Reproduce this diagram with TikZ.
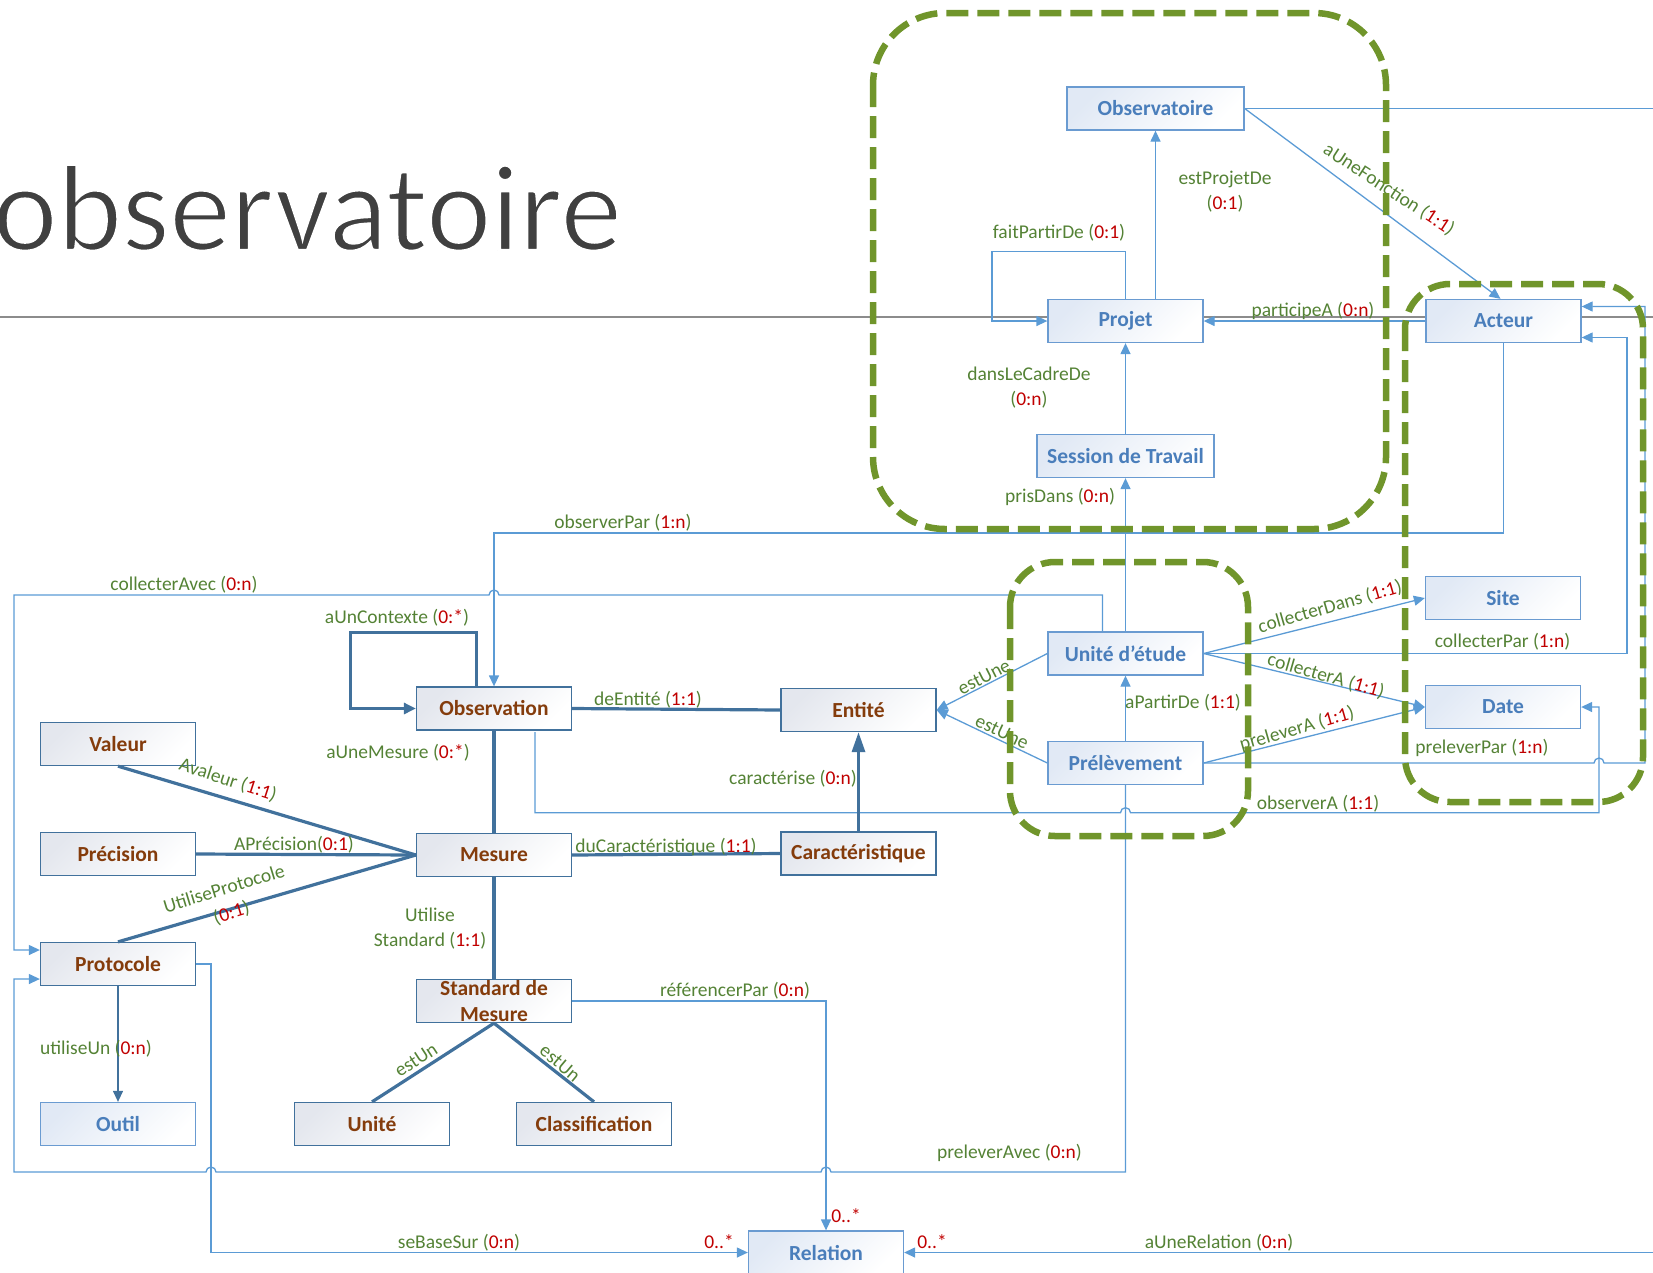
\documentclass[tikz,border=0pt]{standalone}
\usepackage{fontspec}
\setmainfont{Carlito}
\usetikzlibrary{arrows.meta,calc,shadings}

\definecolor{bbord}{HTML}{6A9BD1}
\definecolor{bfill}{HTML}{E1E9F5}
\definecolor{btext}{HTML}{4A7EBB}
\definecolor{dbord}{HTML}{41719C}
\definecolor{rfill}{HTML}{E4E7EE}
\definecolor{rtext}{HTML}{843C0C}
\definecolor{lblue}{HTML}{5B9BD5}
\definecolor{dblue}{HTML}{41719C}
\definecolor{lgreen}{HTML}{548235}
\definecolor{lred}{HTML}{C00000}
\definecolor{dgreen}{HTML}{70952B}
\definecolor{titlegray}{HTML}{404040}
\definecolor{rulegray}{HTML}{8C8C8C}

\newcommand{\rd}[1]{\textcolor{lred}{#1}}
\newcommand{\boxfont}{\fontsize{21.5}{26}\selectfont\bfseries}
\newcommand{\lblfont}{\fontsize{19.5}{25}\selectfont}
% thinner title strokes: fill, then stroke the outlines in white
\newcommand{\lighttext}[1]{\special{pdf:literal direct 2 Tr 1 1 1 RG 2.4 w}#1\special{pdf:literal direct 0 Tr 0 0 0 RG 0.4 w}}

\tikzset{
  bluebox/.style={draw=bbord, line width=1.3pt, top color=bfill, bottom color=white,
    shading angle=45, minimum width=155pt, minimum height=43pt, inner sep=0pt,
    font=\boxfont, text=btext},
  brownbox/.style={draw=dbord, line width=1.3pt, top color=rfill, bottom color=white,
    shading angle=45, minimum width=155pt, minimum height=43pt, inner sep=0pt,
    font=\boxfont, text=rtext},
  boxtext/.style={font=\boxfont, text=rtext, align=center, inner sep=0pt},
  link/.style={draw=lblue, line width=1.3pt},
  dlink/.style={draw=dblue, line width=1.3pt},
  heavy/.style={draw=dblue, line width=3.2pt},
  arr/.style={-{Triangle[length=11pt,width=10pt]}},
  harr/.style={-{Triangle[length=12pt,width=11pt]}},
  bigarr/.style={-{Triangle[length=20pt,width=13pt]}},
  lbl/.style={font=\lblfont, text=lgreen, inner sep=0pt, align=center},
  gdash/.style={draw=dgreen, line width=6.5pt, dash pattern=on 22pt off 9pt},
}

\begin{document}
\begin{tikzpicture}[x=1pt,y=-1pt]
\useasboundingbox (0,0) rectangle (1653,1272);

% slide title and its rule
\node[anchor=base east, inner sep=0pt, text=titlegray,
      font=\fontsize{123}{123}\selectfont] (title) at (622,250) {\lighttext{observatoire}};
\coordinate (ruleL) at (0,317);
\coordinate (ruleR) at (1653,317);
\draw[rulegray, line width=1.5pt] (ruleL) -- (ruleR);

% ---------- classes ----------
\node[bluebox, minimum width=177pt] (observatoire) at (1155.5,108.5) {Observatoire};
\node[bluebox] (projet) at (1125.5,321) {Projet};
\node[bluebox, minimum width=177pt] (session) at (1125.5,456) {Session de Travail};
\node[bluebox] (acteur) at (1503.5,321) {Acteur};
\node[bluebox] (site) at (1503,598) {Site};
\node[bluebox] (uetude) at (1125.5,653.5) {Unité d’étude};
\node[bluebox] (date) at (1503,707) {Date};
\node[bluebox] (prelev) at (1125.5,763) {Prélèvement};
\node[brownbox] (observation) at (494,708.5) {Observation};
\node[brownbox] (entite) at (858.5,710) {Entité};
\node[brownbox] (valeur) at (118,744) {Valeur};
\node[brownbox] (precision) at (118,854) {Précision};
\node[brownbox] (mesure) at (494,855) {Mesure};
\node[brownbox] (caract) at (858.5,853.5) {Caractéristique};
\node[brownbox] (protocole) at (118,964) {Protocole};
\node[bluebox] (outil) at (118,1124) {Outil};
\node[brownbox] (standard) at (494,1001) {};
\node[boxtext] (standardtxt) at (standard.center) {Standard de\\Mesure};
\node[brownbox] (unite) at (372,1124) {Unité};
\node[brownbox] (classif) at (594,1124) {Classification};
\node[bluebox] (relation) at (826,1252.5) {Relation};

% ---------- bend points ----------
\coordinate (edgeObs) at (1653,108.5);
\coordinate (edgeRel) at (1653,1252.5);
\coordinate (fpA) at (1125.5,251.5);
\coordinate (fpB) at (992,251.5);
\coordinate (opY) at (0,533);
\coordinate (caStart) at ($(uetude.north)+(-23,0)$);
\coordinate (caY) at (0,595);
\coordinate (leftX) at (14,0);
\coordinate (protoTop) at ($(protocole.west)+(0,-14)$);
\coordinate (protoLow) at ($(protocole.west)+(0,15)$);
\coordinate (paY) at (0,1172);
\coordinate (sbX) at (211,0);
\coordinate (cpX) at (1627,0);
\coordinate (ppX) at (1645,0);
\coordinate (oaX) at (1599,0);
\coordinate (acteurLow) at ($(acteur.east)+(0,16.5)$);
\coordinate (acteurHigh) at ($(acteur.east)+(0,-14.5)$);
\coordinate (oaStart) at (535,732);
\coordinate (oaY) at (0,812.7);
\coordinate (ucA) at (476.5,632.5);
\coordinate (ucB) at (350.5,632.5);

% ---------- thin connectors ----------
\draw[link] (observatoire.east) -- (edgeObs);
\draw[link,arr] (observatoire.east) -- ($(acteur.north)+(-3,0)$);
\draw[link,arr] (projet.north -| observatoire.south) -- (observatoire.south);
\draw[link,arr] (projet.north) -- (fpA) -- (fpB) |- (projet.west);
\draw[link,arr] (acteur.west) -- (projet.east);
\draw[link,arr] (session.north) -- (projet.south);
\draw[link,arr] (uetude.north) -- (session.south);
\draw[link,arr] (acteur.south) -- (acteur.south |- opY) -| (observation.north);
\draw[link,arr] (caStart) -- (caStart |- caY)
  -- ($(observation.north |- caY)+(5,0)$) arc[start angle=0,end angle=-180,radius=5]
  -- (leftX |- caY) -- (leftX |- protoTop) -- (protoTop);
\draw[link,arr] (prelev.south) -- (prelev.south |- paY)
  -- ($(relation.north |- paY)+(5,0)$) arc[start angle=0,end angle=-180,radius=5]
  -- ($(sbX |- paY)+(5,0)$) arc[start angle=0,end angle=-180,radius=5]
  -- (leftX |- paY) -- (leftX |- protoLow) -- (protoLow);
\draw[link,arr] (protocole.east) -- (sbX |- protocole.east) -- (sbX |- relation.west) -- (relation.west);
\draw[link,arr] (standard.east) -- (standard.east -| relation.north) -- (relation.north);
\draw[link,arr] (edgeRel) -- (relation.east);
\draw[dlink,arr] (protocole.south) -- (outil.north);
\draw[link,arr] (uetude.east) -- (site.west);
\draw[link,arr] (uetude.east) -- (date.west);
\draw[link,arr] (prelev.east) -- (date.west);
\draw[link,arr] (uetude.west) -- (entite.east);
\draw[link,arr] (prelev.west) -- (entite.east);
\draw[link,arr] (uetude.east) -- (cpX |- uetude.east) -- (cpX |- acteurLow) -- (acteurLow);
\draw[link,arr] (prelev.east)
  -- ($(oaX |- prelev.east)+(-5,0)$) arc[start angle=180,end angle=360,radius=5]
  -- (ppX |- prelev.east) -- (ppX |- acteurHigh) -- (acteurHigh);
\draw[link,arr] (oaStart) -- (oaStart |- oaY)
  -- ($(prelev.south |- oaY)+(-5,0)$) arc[start angle=180,end angle=360,radius=5]
  -- (oaX |- oaY) -- (oaX |- date.east) -- (date.east);
\draw[link,arr] (prelev.north) -- (uetude.south);

% ---------- heavy connectors ----------
\draw[heavy,harr] (ucA |- observation.north) -- (ucA) -- (ucB) |- (observation.west);
\draw[heavy] (observation.east) -- (entite.west);
\draw[heavy] (observation.south) -- (mesure.north);
\draw[heavy,bigarr] (caract.north) -- (entite.south);
\draw[heavy] (mesure.east) -- (caract.west);
\draw[heavy] (valeur.south) -- (mesure.west);
\draw[heavy] (precision.east) -- (mesure.west);
\draw[heavy] (protocole.north) -- (mesure.west);
\draw[heavy] (mesure.south) -- (standard.north);
\draw[heavy] (standard.south) -- (unite.north);
\draw[heavy] (standard.south) -- (classif.north);

% ---------- labels ----------
\node[lbl] (lFait) at (1059,233) {faitPartirDe (\rd{0:1})};
\node[lbl] (lEstP) at (1225,192) {estProjetDe\\(\rd{0:1})};
\node[lbl, rotate=-33] (lFonc) at (1389,189.5) {aUneFonction (\rd{1:1})};
\node[lbl] (lPart) at (1313,311) {participeA (\rd{0:n})};
\node[lbl] (lCadre) at (1029,388) {dansLeCadreDe\\(\rd{0:n})};
\node[lbl] (lPris) at (1060,497) {prisDans (\rd{0:n})};
\node[lbl] (lOPar) at (623,523) {observerPar (\rd{1:n})};
\node[lbl] (lCAvec) at (184,585) {collecterAvec (\rd{0:n})};
\node[lbl] (lCtx) at (397,618) {aUnContexte (\rd{0:*})};
\node[lbl] (lEnt) at (648,700) {deEntité (\rd{1:1})};
\node[lbl] (lMes) at (398,753) {aUneMesure (\rd{0:*})};
\node[lbl] (lCar) at (793,779) {caractérise (\rd{0:n})};
\node[lbl] (lDuC) at (666,847) {duCaractéristique (\rd{1:1})};
\node[lbl, rotate=-18] (lVal) at (228,780) {Avaleur (\rd{1:1})};
\node[lbl] (lPrec) at (294,845) {APrécision(\rd{0:1})};
\node[lbl, rotate=17] (lUProt) at (228,901.5) {UtiliseProtocole\\(\rd{0:1})};
\node[lbl] (lUStd) at (430,928.5) {Utilise\\Standard (\rd{1:1})};
\node[lbl, rotate=33] (lUn1) at (416,1060) {estUn};
\node[lbl, rotate=-40] (lUn2) at (560,1063) {estUn};
\node[lbl] (lUtil) at (96,1049) {utiliseUn (\rd{0:n})};
\node[lbl] (lRef) at (735,991) {référencerPar (\rd{0:n})};
\node[lbl, text=lred] (lM1) at (846,1216) {0..*};
\node[lbl] (lBase) at (459,1243) {seBaseSur (\rd{0:n})};
\node[lbl, text=lred] (lM2) at (719,1242) {0..*};
\node[lbl] (lRel) at (1219,1243) {aUneRelation (\rd{0:n})};
\node[lbl, text=lred] (lM3) at (932,1242) {0..*};
\node[lbl] (lPAvec) at (1009.5,1153) {preleverAvec (\rd{0:n})};
\node[lbl, rotate=16] (lCDans) at (1330,607) {collecterDans (\rd{1:1})};
\node[lbl, rotate=-16] (lCA) at (1326,676) {collecterA (\rd{1:1})};
\node[lbl, rotate=16] (lPA) at (1297,729) {preleverA (\rd{1:1})};
\node[lbl] (lCPar) at (1502.5,642) {collecterPar (\rd{1:n})};
\node[lbl] (lPPar) at (1482,748) {preleverPar (\rd{1:n})};
\node[lbl] (lOA) at (1318,804) {observerA (\rd{1:1})};
\node[lbl] (lAPD) at (1183,703) {aPartirDe (\rd{1:1})};
\node[lbl, rotate=27] (lEU1) at (984,677) {estUne};
\node[lbl, rotate=-25] (lEU2) at (1002,732) {estUne};

% ---------- dashed groupings ----------
\draw[gdash, rounded corners=72pt] (873,13) rectangle (1386,529);
\draw[gdash, rounded corners=45pt] (1010,562) rectangle (1248,836);
\draw[gdash, rounded corners=45pt] (1405,284) rectangle (1643,802);
\end{tikzpicture}
\end{document}
